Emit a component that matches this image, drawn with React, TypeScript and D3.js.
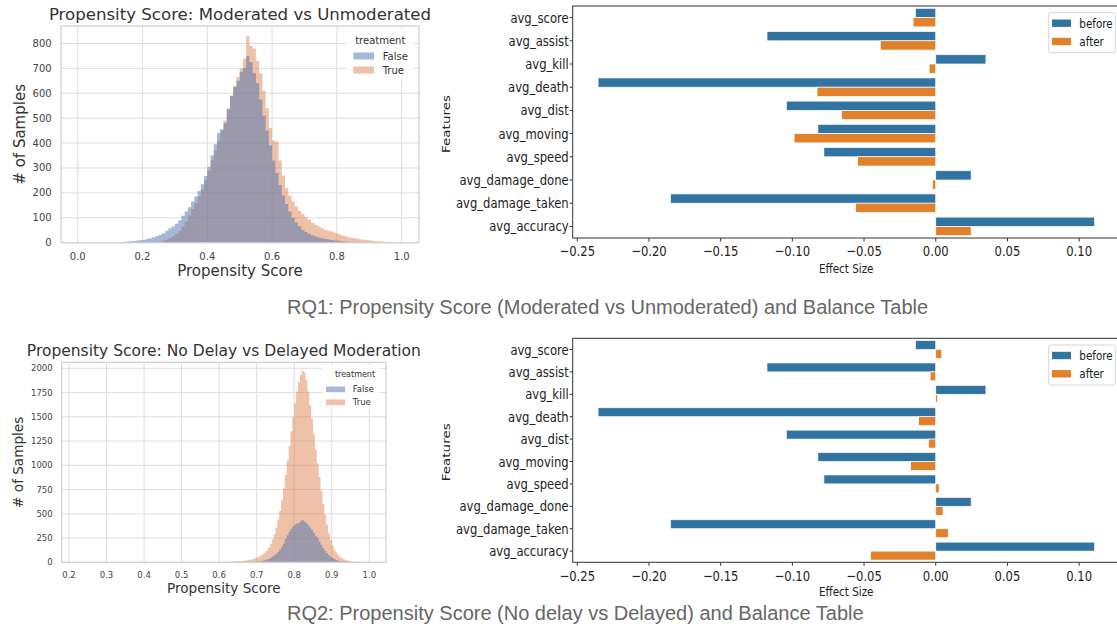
import React, { useEffect, useRef } from 'react'
import * as d3 from 'd3'

// ---- RQ1 propensity histogram (bins of 0.01 from 0.10) ----
const rq1BinStart = 0.1
const rq1BinWidth = 0.01
const rq1False = [
  1, 1, 2, 3, 4, 5, 6, 7, 9, 10,
  12, 15, 18, 22, 27, 32, 38, 48, 58, 66,
  76, 90, 108, 125, 142, 165, 185, 208, 235, 268,
  305, 350, 395, 440, 455, 480, 535, 590, 625, 650,
  685, 700, 750, 725, 680, 640, 575, 510, 450, 390,
  330, 280, 232, 190, 155, 125, 100, 82, 66, 52,
  43, 36, 30, 25, 21, 18, 15, 13, 11, 9,
  8, 6, 5, 4, 3, 2, 2, 1, 1, 0,
  0, 0, 0, 0, 0, 0, 0, 0, 0, 0,
]
const rq1True = [
  0, 0, 0, 0, 0, 0, 0, 0, 0, 0,
  0, 0, 1, 2, 3, 5, 8, 12, 18, 25,
  35, 48, 65, 85, 110, 135, 160, 185, 215, 250,
  290, 330, 370, 410, 450, 490, 540, 590, 630, 665,
  700, 740, 830, 790, 780, 730, 680, 610, 540, 460,
  410, 405, 330, 270, 220, 190, 165, 145, 128, 115,
  102, 92, 80, 72, 66, 58, 52, 48, 45, 40,
  35, 30, 27, 24, 20, 18, 15, 13, 12, 10,
  9, 7, 6, 5, 4, 3, 2, 2, 1, 3,
]

// ---- RQ2 propensity histogram (bins of 0.005 from 0.60) ----
const rq2BinStart = 0.6
const rq2BinWidth = 0.005
const rq2False = [
  0, 0, 0, 0, 0, 0, 0, 0, 1, 0, 1, 1, 1, 1, 2, 2,
  2, 3, 4, 5, 7, 9, 12, 15, 22, 28,
  35, 45, 56, 70, 86, 106, 130, 160, 195, 240,
  280, 315, 345, 370, 390, 400, 405, 420, 435, 420,
  405, 385, 360, 335, 305, 275, 250, 215, 180, 148,
  120, 95, 75, 58, 44, 33, 24, 17, 12, 8,
  5, 3, 2,
  1, 0, 0, 0, 0, 0, 0,
]
const rq2True = [
  2, 1, 2, 3, 3, 4, 5, 6, 8, 9, 10, 12, 14, 16, 18, 22,
  26, 30, 36, 42, 50, 60, 70, 84, 100, 120,
  150, 185, 235, 290, 360, 440, 530, 640, 760, 900,
  1050, 1200, 1350, 1500, 1640, 1760, 1860, 1930, 1975, 1955,
  1880, 1760, 1620, 1480, 1320, 1160, 1020, 880, 740, 600,
  490, 390, 300, 230, 175, 130, 100, 75, 56, 42,
  32, 24, 18, 13, 9, 6, 4, 3, 2, 1,
]

// ---- balance tables ----
const features = [
  'avg_score', 'avg_assist', 'avg_kill', 'avg_death', 'avg_dist',
  'avg_moving', 'avg_speed', 'avg_damage_done', 'avg_damage_taken', 'avg_accuracy',
]
const before = [-0.0142, -0.1177, 0.035, -0.2355, -0.1042, -0.0822, -0.078, 0.0247, -0.185, 0.1108]
const rq1After = [-0.0158, -0.0387, -0.0046, -0.0828, -0.0657, -0.0988, -0.0545, -0.0024, -0.056, 0.0247]
const rq2After = [0.0042, -0.0039, 0.0012, -0.012, -0.0051, -0.0175, 0.0024, 0.0051, 0.0087, -0.0455]

const rq1XTicks = [0, 0.2, 0.4, 0.6, 0.8, 1.0]
const rq1YTicks = [0, 100, 200, 300, 400, 500, 600, 700, 800]
const rq2XTicks = [0.2, 0.3, 0.4, 0.5, 0.6, 0.7, 0.8, 0.9, 1.0]
const rq2YTicks = [0, 250, 500, 750, 1000, 1250, 1500, 1750, 2000]
const effectTicks = [-0.25, -0.2, -0.15, -0.1, -0.05, 0, 0.05, 0.1]

const W = 1117
const H = 629
const FONT = 'DejaVu Sans, sans-serif'
const SQ = 0.8 // the balance tables are squeezed horizontally in the slide

const blue = '#4c72b0'
const orange = '#dd8452'
const barBlue = '#3274a1'
const barOrange = '#e1812c'

type Sel = d3.Selection<SVGSVGElement, unknown, null, undefined>

function drawHist(svg: Sel, c: any) {
  const x = d3.scaleLinear().domain(c.xDomain).range([c.left, c.right])
  const y = d3.scaleLinear().domain([0, c.yMax]).range([c.bottom, c.top])
  const g = svg.append('g')

  // grid
  g.selectAll('.vg').data(c.xTicks).join('line')
    .attr('x1', (d: any) => x(d)).attr('x2', (d: any) => x(d))
    .attr('y1', c.top).attr('y2', c.bottom)
    .attr('stroke', '#dddddd').attr('stroke-width', 1)
  g.selectAll('.hg').data(c.yTicks).join('line')
    .attr('x1', c.left).attr('x2', c.right)
    .attr('y1', (d: any) => y(d)).attr('y2', (d: any) => y(d))
    .attr('stroke', '#dddddd').attr('stroke-width', 1)

  // histograms, True first then False on top
  const area = d3.area<[number, number]>()
    .x(d => x(d[0]))
    .y0(y(0))
    .y1(d => y(d[1]))
    .curve(d3.curveStepAfter)
  c.series.forEach((s: any) => {
    const pts: [number, number][] = s.values.map((v: number, i: number) => [c.binStart + i * c.binWidth, v])
    pts.push([c.binStart + s.values.length * c.binWidth, s.values[s.values.length - 1]])
    g.append('path').attr('d', area(pts) as string)
      .attr('fill', s.color).attr('fill-opacity', 0.5)
  })

  // frame
  g.append('rect')
    .attr('x', c.left).attr('y', c.top)
    .attr('width', c.right - c.left).attr('height', c.bottom - c.top)
    .attr('fill', 'none').attr('stroke', '#d0d0d0').attr('stroke-width', 1.25)

  // tick labels
  g.selectAll('.xt').data(c.xTicks).join('text')
    .attr('x', (d: any) => x(d)).attr('y', c.bottom + c.xTickOff)
    .attr('dy', '0.35em').attr('text-anchor', 'middle')
    .attr('font-size', c.tickFont).attr('fill', '#444')
    .text((d: any) => d.toFixed(1))
  g.selectAll('.yt').data(c.yTicks).join('text')
    .attr('x', c.left - c.yTickPad).attr('y', (d: any) => y(d))
    .attr('dy', '0.35em').attr('text-anchor', 'end')
    .attr('font-size', c.tickFont).attr('fill', '#444')
    .text((d: any) => String(d))

  // title and axis labels
  const cx = (c.left + c.right) / 2
  g.append('text').attr('x', cx).attr('y', c.titleY)
    .attr('text-anchor', 'middle').attr('font-size', c.titleFont).attr('fill', '#333')
    .text(c.title)
  g.append('text').attr('x', cx).attr('y', c.xLabelY)
    .attr('text-anchor', 'middle').attr('font-size', c.labelFont).attr('fill', '#333')
    .text('Propensity Score')
  g.append('text')
    .attr('transform', `translate(${c.yLabelX},${(c.top + c.bottom) / 2}) rotate(-90)`)
    .attr('dy', '0.35em').attr('text-anchor', 'middle')
    .attr('font-size', c.labelFont).attr('fill', '#333')
    .text('# of Samples')

  // legend
  const L = c.legend
  g.append('rect').attr('x', L.box[0]).attr('y', L.box[1]).attr('width', L.box[2]).attr('height', L.box[3])
    .attr('rx', 3).attr('fill', '#fff').attr('fill-opacity', 0.8)
  g.append('text').attr('x', L.titleX).attr('y', L.titleY).attr('dy', '0.35em')
    .attr('text-anchor', 'middle').attr('font-size', L.titleFont).attr('fill', '#333')
    .text('treatment')
  const items = [{ label: 'False', color: blue }, { label: 'True', color: orange }]
  items.forEach((it, i) => {
    g.append('rect').attr('x', L.patchX).attr('y', L.rows[i] - L.patchH / 2)
      .attr('width', L.patchW).attr('height', L.patchH)
      .attr('fill', it.color).attr('fill-opacity', 0.5)
    g.append('text').attr('x', L.labelX).attr('y', L.rows[i]).attr('dy', '0.35em')
      .attr('font-size', L.font).attr('fill', '#333').text(it.label)
  })
}

function drawBars(svg: Sel, c: any) {
  const x = d3.scaleLinear().domain([-0.2532, 0.1283]).range([c.left, c.right])
  const y = d3.scaleBand().domain(features).range([c.top, c.bottom]).padding(0)
  const bw = y.bandwidth()
  const g = svg.append('g')
  const fmt = d3.format('.2f')

  features.forEach((f, i) => {
    const b0 = before[i]
    const a0 = c.after[i]
    g.append('rect')
      .attr('x', x(Math.min(0, b0))).attr('y', (y(f) as number) + bw * 0.1)
      .attr('width', Math.abs(x(b0) - x(0))).attr('height', bw * 0.4)
      .attr('fill', barBlue).attr('stroke', '#fff').attr('stroke-width', 0.7)
    g.append('rect')
      .attr('x', x(Math.min(0, a0))).attr('y', (y(f) as number) + bw * 0.5)
      .attr('width', Math.abs(x(a0) - x(0))).attr('height', bw * 0.4)
      .attr('fill', barOrange).attr('stroke', '#fff').attr('stroke-width', 0.7)
  })

  // spines
  g.append('rect')
    .attr('x', c.left).attr('y', c.top)
    .attr('width', c.right - c.left).attr('height', c.bottom - c.top)
    .attr('fill', 'none').attr('stroke', '#333').attr('stroke-width', 1)

  // x ticks
  effectTicks.forEach(t => {
    g.append('line').attr('x1', x(t)).attr('x2', x(t))
      .attr('y1', c.bottom).attr('y2', c.bottom + 3.5).attr('stroke', '#333')
    g.append('text')
      .attr('transform', `translate(${x(t)},${c.bottom + c.xTickOff}) scale(${SQ},1)`)
      .attr('dy', '0.35em').attr('text-anchor', 'middle')
      .attr('font-size', 14.5).attr('fill', '#222')
      .text(fmt(t))
  })
  // y ticks
  features.forEach(f => {
    const yc = (y(f) as number) + bw / 2
    g.append('line').attr('x1', c.left - 3).attr('x2', c.left)
      .attr('y1', yc).attr('y2', yc).attr('stroke', '#333')
    g.append('text')
      .attr('transform', `translate(${c.left - 4},${yc}) scale(${SQ},1)`)
      .attr('dy', '0.35em').attr('text-anchor', 'end')
      .attr('font-size', 14.5).attr('fill', '#222')
      .text(f)
  })

  g.append('text')
    .attr('transform', `translate(${(c.left + c.right) / 2},${c.effectY}) scale(${SQ},1)`)
    .attr('text-anchor', 'middle').attr('font-size', 13).attr('fill', '#222')
    .text('Effect Size')
  g.append('text')
    .attr('transform', `translate(446.5,${(c.top + c.bottom) / 2 + 2}) scale(${SQ},1) rotate(-90)`)
    .attr('dy', '0.35em').attr('text-anchor', 'middle')
    .attr('font-size', 13.5).attr('fill', '#222')
    .text('Features')

  // legend
  const lt = c.top + 6.7
  g.append('rect').attr('x', 1048.7).attr('y', lt).attr('width', 66.6).attr('height', 40)
    .attr('rx', 2).attr('fill', '#fff').attr('stroke', '#d6d6d6').attr('stroke-width', 1)
  const items = [{ label: 'before', color: barBlue }, { label: 'after', color: barOrange }]
  items.forEach((it, i) => {
    const ry = lt + 10.5 + i * 18.3
    g.append('rect').attr('x', 1052).attr('y', ry - 3.7).attr('width', 19).attr('height', 7.4)
      .attr('fill', it.color)
    g.append('text')
      .attr('transform', `translate(1079.3,${ry}) scale(${SQ},1)`)
      .attr('dy', '0.35em').attr('font-size', 13).attr('fill', '#222')
      .text(it.label)
  })
}

const App: React.FC = () => {
  const svgRef = useRef<SVGSVGElement>(null)

  useEffect(() => {
    const svg = d3.select(svgRef.current) as unknown as Sel
    svg.selectAll('*').remove()
    svg.append('rect').attr('width', W).attr('height', H).attr('fill', '#fff')

    drawHist(svg, {
      left: 61, right: 419, top: 26, bottom: 242.7,
      xDomain: [-0.0518, 1.0537], yMax: 870,
      xTicks: rq1XTicks, yTicks: rq1YTicks,
      binStart: rq1BinStart, binWidth: rq1BinWidth,
      series: [{ values: rq1True, color: orange }, { values: rq1False, color: blue }],
      tickFont: 10, xTickOff: 14, yTickPad: 9.3,
      title: 'Propensity Score: Moderated vs Unmoderated', titleY: 20, titleFont: 16.6,
      xLabelY: 276, yLabelX: 20, labelFont: 15,
      legend: {
        box: [347, 29, 67, 49], titleX: 380.3, titleY: 40, titleFont: 10,
        patchX: 353.3, patchW: 20.7, patchH: 7, rows: [56, 70], labelX: 382.7, font: 10,
      },
    })

    drawHist(svg, {
      left: 61.7, right: 386, top: 362.3, bottom: 562.3,
      xDomain: [0.1806, 1.0445], yMax: 2062,
      xTicks: rq2XTicks, yTicks: rq2YTicks,
      binStart: rq2BinStart, binWidth: rq2BinWidth,
      series: [{ values: rq2True, color: orange }, { values: rq2False, color: blue }],
      tickFont: 8.5, xTickOff: 12.7, yTickPad: 9,
      title: 'Propensity Score: No Delay vs Delayed Moderation', titleY: 356, titleFont: 15.5,
      xLabelY: 593.3, yLabelX: 18.3, labelFont: 13.6,
      legend: {
        box: [322, 365, 58, 44], titleX: 355, titleY: 374.3, titleFont: 8,
        patchX: 326, patchW: 19, patchH: 5.6, rows: [389.3, 402.3], labelX: 352.7, font: 8.5,
      },
    })

    drawBars(svg, { left: 572.7, right: 1119.7, top: 6, bottom: 238, after: rq1After, xTickOff: 12.5, effectY: 272.5 })
    drawBars(svg, { left: 572.7, right: 1119.7, top: 338.3, bottom: 562.3, after: rq2After, xTickOff: 13.2, effectY: 596 })

    // slide captions
    svg.append('text').attr('x', 287).attr('y', 314)
      .attr('font-family', 'Liberation Sans, Arial, sans-serif').attr('font-size', 20).attr('fill', '#666')
      .text('RQ1: Propensity Score (Moderated vs Unmoderated) and Balance Table')
    svg.append('text').attr('x', 287).attr('y', 620)
      .attr('font-family', 'Liberation Sans, Arial, sans-serif').attr('font-size', 20).attr('fill', '#666')
      .text('RQ2: Propensity Score (No delay vs Delayed) and Balance Table')
  }, [])

  return (
    <svg
      ref={svgRef}
      width={W}
      height={H}
      style={{ position: 'absolute', left: 0, top: 0, fontFamily: FONT }}
    />
  )
}

export default App
